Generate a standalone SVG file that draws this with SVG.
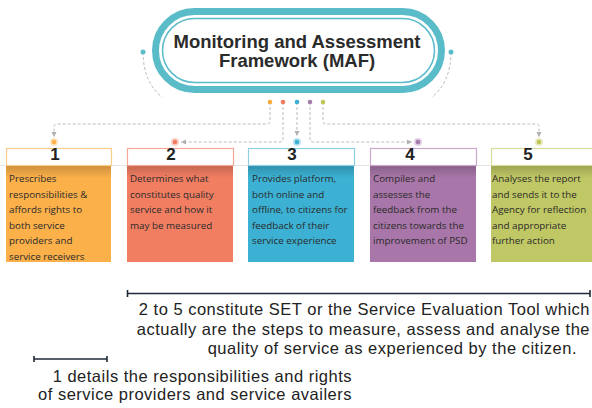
<svg xmlns="http://www.w3.org/2000/svg" width="592" height="408" viewBox="0 0 592 408">
<defs>
<style>
.conn{fill:none;stroke:#bdbdbd;stroke-width:1;stroke-dasharray:3 2}
.title{font-family:"Liberation Sans",Arial,sans-serif;font-weight:bold;font-size:18.5px;fill:#2b2b2b;text-anchor:middle}
.num{font-family:"Liberation Sans",Arial,sans-serif;font-weight:bold;font-size:17px;fill:#222;text-anchor:middle}
.body{font-family:"Open Sans","Noto Sans",sans-serif;font-size:9.8px;fill:#2a2a2a}
.note{font-family:"Liberation Sans",Arial,sans-serif;font-size:16.5px;letter-spacing:0.5px;fill:#222}
.hdr{fill:#fff;stroke-width:1.2}
</style>
<linearGradient id="shade" x1="0" y1="0" x2="0" y2="1">
<stop offset="0" stop-color="#000" stop-opacity="0.18"/>
<stop offset="1" stop-color="#000" stop-opacity="0"/>
</linearGradient>
<marker id="ah" markerWidth="6" markerHeight="6" refX="5" refY="3" orient="auto" markerUnits="userSpaceOnUse">
<path d="M0,0.5 L5,3 L0,5.5 Z" fill="#b0b0b0"/>
</marker>
</defs>
<rect width="592" height="408" fill="#fff"/>

<g id="connectors">
<path class="conn" d="M143,52 C143,72 150,88 162,97"/>
<path class="conn" d="M451,52 C451,72 444,88 432,97"/>
<path class="conn" d="M270,102 V121 Q270,124 267,124 H57 Q54,124 54,127 V137" marker-end="url(#ah)"/>
<path class="conn" d="M283,102 V139 Q283,142 280,142 H181" marker-end="url(#ah)"/>
<path class="conn" d="M297,102 V136" marker-end="url(#ah)"/>
<path class="conn" d="M310,102 V139 Q310,142 313,142 H412" marker-end="url(#ah)"/>
<path class="conn" d="M323,102 V121 Q323,124 326,124 H536 Q539,124 539,127 V137" marker-end="url(#ah)"/>
</g>

<g id="title">
<rect x="155.5" y="11.5" width="286" height="78" rx="39" fill="#fff" stroke="#59bcc8" stroke-width="7"/>
<rect x="162.5" y="18.5" width="272" height="64" rx="32" fill="none" stroke="#59bcc8" stroke-width="1.5"/>
<text class="title" x="297" y="48">Monitoring and Assessment</text>
<text class="title" x="297" y="67">Framework (MAF)</text>
<circle cx="143" cy="52" r="2.5" fill="#59bcc8"/>
<circle cx="451" cy="52" r="2.5" fill="#59bcc8"/>
<circle cx="270" cy="102" r="2.3" fill="#f9a83b"/>
<circle cx="283" cy="102" r="2.3" fill="#f07b5f"/>
<circle cx="297" cy="102" r="2.3" fill="#3aafd4"/>
<circle cx="310" cy="102" r="2.3" fill="#a77bad"/>
<circle cx="323" cy="102" r="2.3" fill="#bfc653"/>
</g>

<line x1="0" y1="165.5" x2="592" y2="165.5" stroke="#e4e4e4" stroke-width="1"/>

<g id="card1">
<circle cx="54" cy="142" r="4" fill="#fbb04a" opacity="0.35"/>
<circle cx="54" cy="142" r="2.3" fill="#fbb04a"/>
<rect x="6" y="166" width="105" height="96" fill="#fbb04a"/>
<rect x="6" y="166" width="105" height="12" fill="url(#shade)"/>
<rect class="hdr" x="6.5" y="148.5" width="105" height="17" stroke="#fbcd8a"/>
<text class="num" x="55" y="160">1</text>
<text class="body"><tspan x="9" y="182">Prescribes</tspan><tspan x="9" y="197.5">responsibilities &amp;</tspan><tspan x="9" y="213">affords rights to</tspan><tspan x="9" y="228.5">both service</tspan><tspan x="9" y="244">providers and</tspan><tspan x="9" y="259.5">service receivers</tspan></text>
</g>

<g id="card2">
<circle cx="175" cy="142" r="4" fill="#f07b5f" opacity="0.35"/>
<circle cx="175" cy="142" r="2.3" fill="#f07b5f"/>
<rect x="127" y="166" width="106" height="96" fill="#f27e62"/>
<rect x="127" y="166" width="106" height="12" fill="url(#shade)"/>
<rect class="hdr" x="127.5" y="148.5" width="106" height="17" stroke="#f5a994"/>
<text class="num" x="171" y="160">2</text>
<text class="body"><tspan x="130" y="182">Determines what</tspan><tspan x="130" y="197.5">constitutes quality</tspan><tspan x="130" y="213">service and how it</tspan><tspan x="130" y="228.5">may be measured</tspan></text>
</g>

<g id="card3">
<circle cx="297" cy="142" r="4" fill="#3aafd4" opacity="0.35"/>
<circle cx="297" cy="142" r="2.3" fill="#3aafd4"/>
<rect x="248" y="166" width="106" height="96" fill="#3cb1d3"/>
<rect x="248" y="166" width="106" height="12" fill="url(#shade)"/>
<rect class="hdr" x="248.5" y="148.5" width="106" height="17" stroke="#8fd0e6"/>
<text class="num" x="292" y="160">3</text>
<text class="body"><tspan x="252" y="182">Provides platform,</tspan><tspan x="252" y="197.5">both online and</tspan><tspan x="252" y="213">offline, to citizens for</tspan><tspan x="252" y="228.5">feedback of their</tspan><tspan x="252" y="244">service experience</tspan></text>
</g>

<g id="card4">
<circle cx="418" cy="142" r="4" fill="#a77bad" opacity="0.35"/>
<circle cx="418" cy="142" r="2.3" fill="#a77bad"/>
<rect x="370" y="166" width="106" height="96" fill="#a876a8"/>
<rect x="370" y="166" width="106" height="12" fill="url(#shade)"/>
<rect class="hdr" x="370.5" y="148.5" width="106" height="17" stroke="#cba9cc"/>
<text class="num" x="410" y="160">4</text>
<text class="body"><tspan x="373" y="182">Compiles and</tspan><tspan x="373" y="197.5">assesses the</tspan><tspan x="373" y="213">feedback from the</tspan><tspan x="373" y="228.5">citizens towards the</tspan><tspan x="373" y="244">improvement of PSD</tspan></text>
</g>

<g id="card5">
<circle cx="539" cy="142" r="4" fill="#bfc653" opacity="0.35"/>
<circle cx="539" cy="142" r="2.3" fill="#bfc653"/>
<rect x="491" y="166" width="106" height="96" fill="#c0c765"/>
<rect x="491" y="166" width="106" height="12" fill="url(#shade)"/>
<rect class="hdr" x="491.5" y="148.5" width="106" height="17" stroke="#d9dd9c"/>
<text class="num" x="528" y="160">5</text>
<text class="body"><tspan x="492" y="182">Analyses the report</tspan><tspan x="492" y="197.5">and sends it to the</tspan><tspan x="492" y="213">Agency for reflection</tspan><tspan x="492" y="228.5">and appropriate</tspan><tspan x="492" y="244">further action</tspan></text>
</g>

<g id="note-set">
<path d="M127.5,293.5 H590 M127.5,290 V297 M590,290 V297" stroke="#1e2a38" stroke-width="1.6" fill="none"/>
<text class="note" text-anchor="end"><tspan x="590" y="315">2 to 5 constitute SET or the Service Evaluation Tool which</tspan><tspan x="590" y="334.5">actually are the steps to measure, assess and analyse the</tspan><tspan x="577" y="354">quality of service as experienced by the citizen.</tspan></text>
</g>

<g id="note-1">
<path d="M34,359 H107 M34,356 V362 M107,356 V362" stroke="#1e2a38" stroke-width="1.6" fill="none"/>
<text class="note" text-anchor="end"><tspan x="352" y="381.5">1 details the responsibilities and rights</tspan><tspan x="352" y="400">of service providers and service availers</tspan></text>
</g>
</svg>
